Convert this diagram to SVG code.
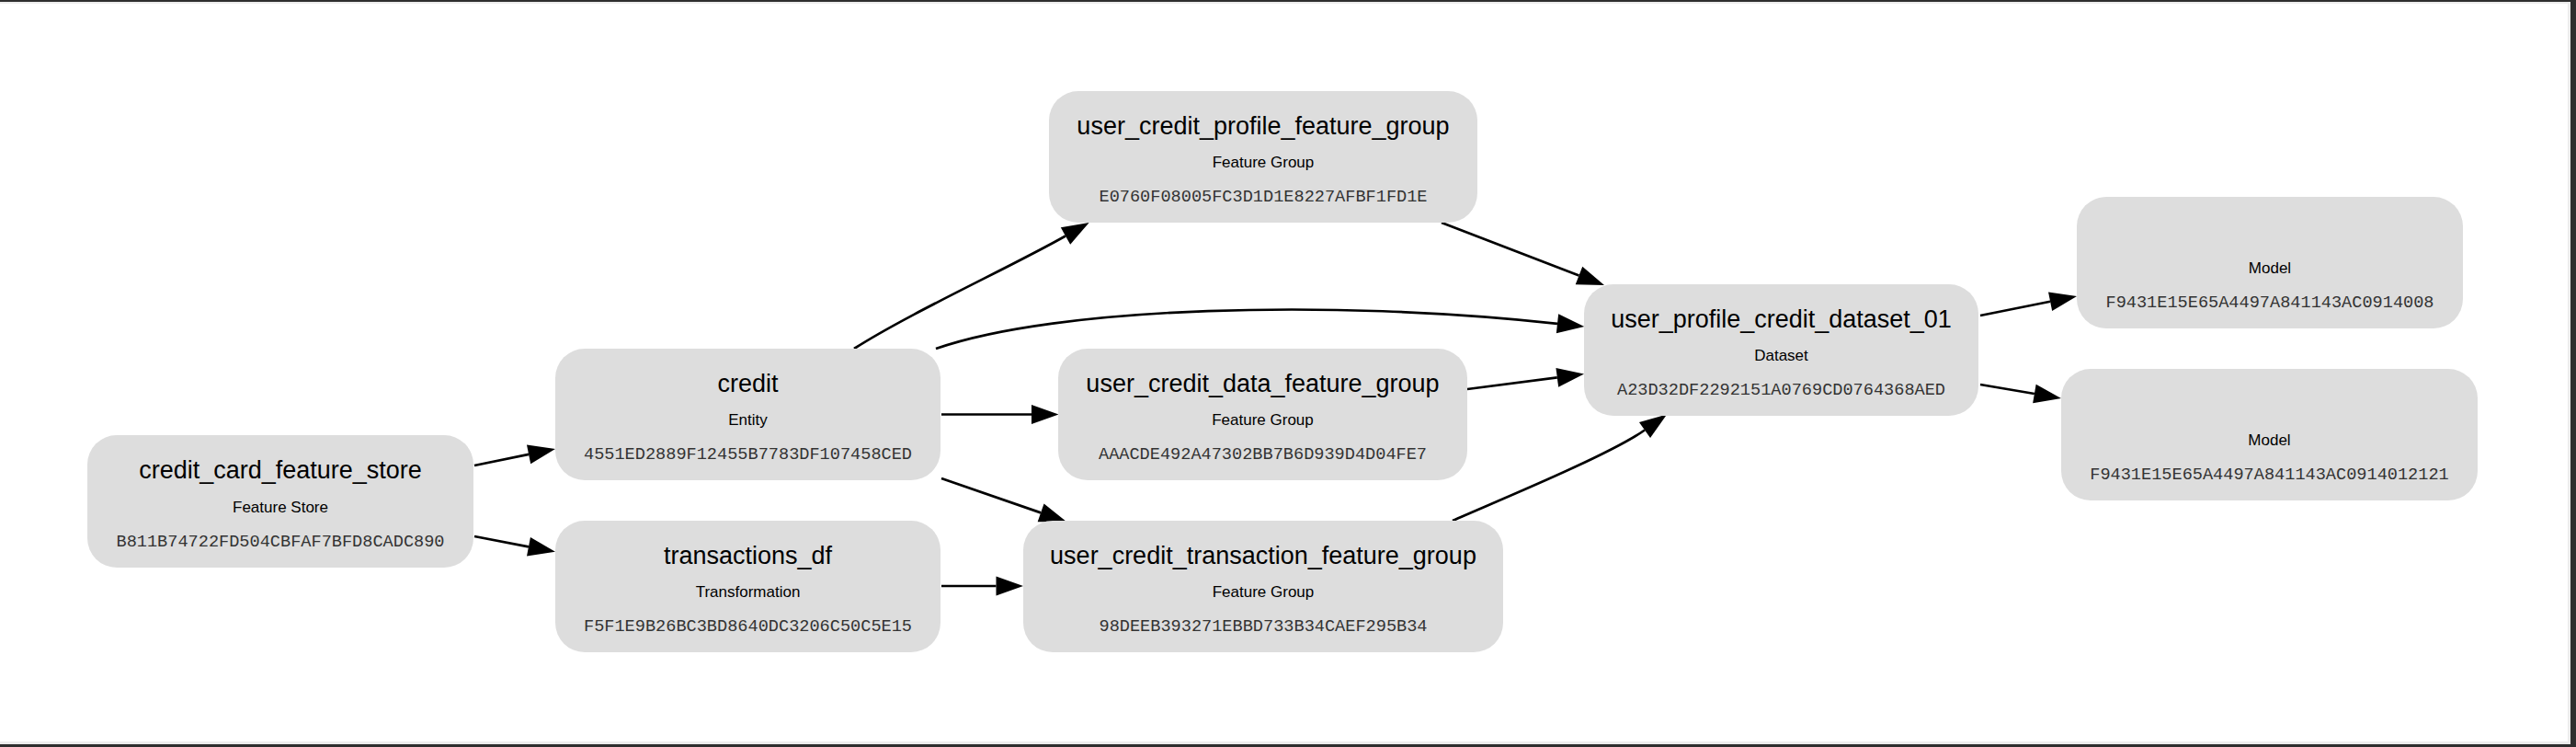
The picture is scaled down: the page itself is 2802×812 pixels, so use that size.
<svg xmlns="http://www.w3.org/2000/svg" width="2802" height="812" viewBox="0 0 2802 812">
<style>
.node rect{fill:#dddddd;stroke:none}
.t{font-family:"Liberation Sans",Arial,Helvetica,sans-serif;font-size:27px;fill:#000;text-anchor:middle}
.s{font-family:"Liberation Sans",Arial,Helvetica,sans-serif;font-size:17px;fill:#000;text-anchor:middle}
.h{font-family:"Liberation Mono","Courier New",monospace;font-size:18.6px;fill:#333;text-anchor:middle}
#edges path{fill:none;stroke:#000;stroke-width:2.7;marker-end:url(#arr)}
</style>
<defs>
<marker id="arr" markerUnits="userSpaceOnUse" markerWidth="31" markerHeight="22" refX="0" refY="11" orient="auto" overflow="visible">
<path d="M0,0.5 L29.5,11 L0,21.5 Z" fill="#000"/>
</marker>
</defs>
<rect x="0" y="0" width="2802" height="812" fill="#ffffff"/>
<rect x="0" y="2" width="2796" height="2" fill="#ececec"/>
<rect x="2793" y="0" width="3" height="812" fill="#ececec"/>
<rect x="0" y="806" width="2796" height="3" fill="#ececec"/>
<rect x="0" y="0" width="2802" height="2" fill="#2e2e2e"/>
<rect x="2796" y="0" width="6" height="812" fill="#2e2e2e"/>
<rect x="0" y="809" width="2802" height="3" fill="#2e2e2e"/>

<g id="edges">
<path d="M516,506 L575.1,493.9"/>
<path d="M516,583 L575,594.3"/>
<path d="M1024,450.5 L1122,450.5"/>
<path d="M1024,520 L1132.1,557.4"/>
<path d="M1024,637 L1083.5,637"/>
<path d="M929,379 C990,340 1100,290 1159,256.5"/>
<path d="M1018,379 C1150,333 1450,325 1694,351.8"/>
<path d="M1568,242 L1717.5,299.5"/>
<path d="M1596,423 L1693.8,410.3"/>
<path d="M1580,566 C1625,546 1750,495 1789,467.5"/>
<path d="M2154,343 L2230.1,327.8"/>
<path d="M2154,418 L2212.9,428"/>
</g>

<g id="credit_card_feature_store" class="node">
<rect x="95" y="473" width="420" height="144" rx="32" ry="32"/>
<text class="t" x="305" y="520">credit_card_feature_store</text>
<text class="s" x="305" y="557">Feature Store</text>
<text class="h" x="305" y="593.5">B811B74722FD504CBFAF7BFD8CADC890</text>
</g>

<g id="credit" class="node">
<rect x="604" y="379" width="419" height="143" rx="32" ry="32"/>
<text class="t" x="813.5" y="426">credit</text>
<text class="s" x="813.5" y="462">Entity</text>
<text class="h" x="813.5" y="498.5">4551ED2889F12455B7783DF107458CED</text>
</g>

<g id="transactions_df" class="node">
<rect x="604" y="566" width="419" height="143" rx="32" ry="32"/>
<text class="t" x="813.5" y="613">transactions_df</text>
<text class="s" x="813.5" y="649">Transformation</text>
<text class="h" x="813.5" y="685.5">F5F1E9B26BC3BD8640DC3206C50C5E15</text>
</g>

<g id="user_credit_profile_feature_group" class="node">
<rect x="1141" y="99" width="466" height="143" rx="32" ry="32"/>
<text class="t" x="1374" y="146">user_credit_profile_feature_group</text>
<text class="s" x="1374" y="182">Feature Group</text>
<text class="h" x="1374" y="218.5">E0760F08005FC3D1D1E8227AFBF1FD1E</text>
</g>

<g id="user_credit_data_feature_group" class="node">
<rect x="1151" y="379" width="445" height="143" rx="32" ry="32"/>
<text class="t" x="1373.5" y="426">user_credit_data_feature_group</text>
<text class="s" x="1373.5" y="462">Feature Group</text>
<text class="h" x="1373.5" y="498.5">AAACDE492A47302BB7B6D939D4D04FE7</text>
</g>

<g id="user_credit_transaction_feature_group" class="node">
<rect x="1113" y="566" width="522" height="143" rx="32" ry="32"/>
<text class="t" x="1374" y="613">user_credit_transaction_feature_group</text>
<text class="s" x="1374" y="649">Feature Group</text>
<text class="h" x="1374" y="685.5">98DEEB393271EBBD733B34CAEF295B34</text>
</g>

<g id="user_profile_credit_dataset_01" class="node">
<rect x="1723" y="309" width="429" height="143" rx="32" ry="32"/>
<text class="t" x="1937.5" y="356">user_profile_credit_dataset_01</text>
<text class="s" x="1937.5" y="392">Dataset</text>
<text class="h" x="1937.5" y="428.5">A23D32DF2292151A0769CD0764368AED</text>
</g>

<g id="model_1" class="node">
<rect x="2259" y="214" width="420" height="143" rx="32" ry="32"/>
<text class="s" x="2469" y="297">Model</text>
<text class="h" x="2469" y="333.5">F9431E15E65A4497A841143AC0914008</text>
</g>

<g id="model_2" class="node">
<rect x="2242" y="401" width="453" height="143" rx="32" ry="32"/>
<text class="s" x="2468.5" y="484">Model</text>
<text class="h" x="2468.5" y="520.5">F9431E15E65A4497A841143AC0914012121</text>
</g>
</svg>
